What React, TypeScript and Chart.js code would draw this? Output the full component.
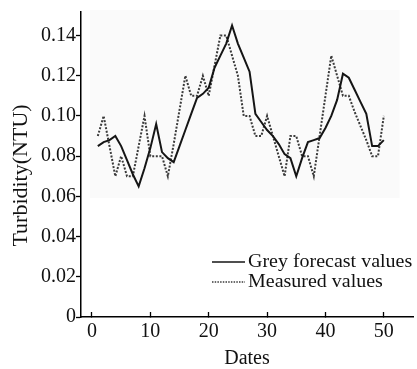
import { useEffect, useRef } from "react";
import { Chart, registerables } from "chart.js";

Chart.register(...registerables);

// ---- data ----
const dates = [
  1, 2, 3, 4, 5, 6, 7, 8, 9, 10,
  11, 12, 13, 14, 15, 16, 17, 18, 19, 20,
  21, 22, 23, 24, 25, 26, 27, 28, 29, 30,
  31, 32, 33, 34, 35, 36, 37, 38, 39, 40,
  41, 42, 43, 44, 45, 46, 47, 48, 49, 50,
];

const forecastValues = [
  0.085, 0.087, 0.088, 0.09, 0.085, 0.078, 0.071, 0.065, 0.074, 0.084,
  0.096, 0.082, 0.079, 0.077, 0.085, 0.093, 0.101, 0.109, 0.111, 0.114,
  0.124, 0.13, 0.136, 0.145, 0.136, 0.129, 0.122, 0.101, 0.097, 0.093,
  0.09, 0.086, 0.081, 0.079, 0.07, 0.079, 0.087, 0.088, 0.089, 0.094,
  0.1, 0.108, 0.121, 0.119, 0.113, 0.107, 0.101, 0.085, 0.085, 0.088,
];

const measuredValues = [
  0.09, 0.1, 0.085, 0.07, 0.08, 0.07, 0.07, 0.085, 0.1, 0.08,
  0.08, 0.08, 0.07, 0.086, 0.103, 0.12, 0.11, 0.11, 0.12, 0.11,
  0.125, 0.14, 0.14, 0.13, 0.12, 0.1, 0.1, 0.09, 0.09, 0.1,
  0.09, 0.08, 0.07, 0.09, 0.09, 0.08, 0.08, 0.07, 0.09, 0.11,
  0.13, 0.12, 0.11, 0.11, 0.102, 0.095, 0.088, 0.08, 0.08, 0.1,
];

const seriesLabels = ["Grey forecast values", "Measured values"];
const xTicks = [0, 10, 20, 30, 40, 50];
const yTicks = [0, 0.02, 0.04, 0.06, 0.08, 0.1, 0.12, 0.14];
const xTitle = "Dates";
const yTitle = "Turbidity(NTU)";

const FONT = "'Liberation Serif', 'Times New Roman', serif";

const backgroundPlugin = {
  id: "softBackground",
  beforeDatasetsDraw(chart: any) {
    const { ctx, scales } = chart;
    const x = scales.x;
    const y = scales.y;
    const l = x.getPixelForValue(-0.35);
    const r = x.getPixelForValue(52.7);
    const t = y.getPixelForValue(0.1527);
    const b = y.getPixelForValue(0.0592);
    ctx.save();
    ctx.fillStyle = "#fafafa";
    ctx.fillRect(l, t, r - l, b - t);
    ctx.restore();
  },
};

const annotationsPlugin = {
  id: "textDecor",
  afterDraw(chart: any) {
    const { ctx, chartArea } = chart;
    ctx.save();
    // y axis title
    ctx.fillStyle = "#111";
    ctx.font = `20px ${FONT}`;
    ctx.textAlign = "center";
    ctx.textBaseline = "middle";
    ctx.translate(chartArea.left - 59, (chartArea.top + chartArea.bottom) / 2 + 11);
    ctx.rotate(-Math.PI / 2);
    ctx.scale(1.1, 1);
    ctx.fillText(yTitle, 0, 0);
    ctx.restore();

    // legend inside plot
    const lx0 = chartArea.right - 201;
    const lx1 = chartArea.right - 168;
    const tx = chartArea.right - 165;
    const rows = [chartArea.bottom - 55, chartArea.bottom - 35];
    chart.data.datasets.forEach((ds: any, i: number) => {
      const yy = rows[i];
      ctx.save();
      ctx.strokeStyle = ds.borderColor;
      ctx.lineWidth = 1.5;
      ctx.setLineDash(i === 1 ? [1.5, 1.2] : []);
      ctx.beginPath();
      ctx.moveTo(lx0, yy);
      ctx.lineTo(lx1, yy);
      ctx.stroke();
      ctx.restore();
      ctx.save();
      ctx.fillStyle = "#111";
      ctx.font = `18.5px ${FONT}`;
      ctx.textAlign = "left";
      ctx.textBaseline = "middle";
      ctx.translate(tx, yy);
      ctx.scale(1.08, 1);
      ctx.fillText(ds.label, 0, 0);
      ctx.restore();
    });
  },
};

export default function App() {
  const canvasRef = useRef<HTMLCanvasElement | null>(null);

  useEffect(() => {
    if (!canvasRef.current) return;
    const chart = new Chart(canvasRef.current, {
      type: "line",
      data: {
        datasets: [
          {
            label: seriesLabels[0],
            data: dates.map((d, i) => ({ x: d, y: forecastValues[i] })),
            borderColor: "#151515",
            borderWidth: 2,
            pointRadius: 0,
            tension: 0,
            fill: false,
          },
          {
            label: seriesLabels[1],
            data: dates.map((d, i) => ({ x: d, y: measuredValues[i] })),
            borderColor: "#3a3a3a",
            borderWidth: 2,
            borderDash: [2, 1.6],
            pointRadius: 0,
            tension: 0,
            fill: false,
          },
        ],
      },
      options: {
        animation: false,
        responsive: false,
        devicePixelRatio: 1,
        layout: { padding: { top: 7, right: 4, left: 0, bottom: 0 } },
        plugins: {
          legend: { display: false },
          tooltip: { enabled: false },
        },
        scales: {
          x: {
            type: "linear",
            min: -1.88,
            max: 55,
            afterBuildTicks: (s: any) => {
              s.ticks = xTicks.map((v) => ({ value: v }));
            },
            afterFit: (s: any) => {
              s.height = 52;
            },
            border: { display: true, color: "#000", width: 1.5 },
            grid: {
              display: true,
              drawOnChartArea: false,
              drawTicks: true,
              tickLength: -5,
              tickColor: "#000",
              tickWidth: 1.3,
            },
            ticks: {
              padding: 7.5,
              color: "#111",
              font: { family: FONT, size: 20 },
              maxRotation: 0,
              callback: (v: any) => String(v),
            },
            title: {
              display: true,
              text: xTitle,
              color: "#111",
              font: { family: FONT, size: 20, lineHeight: 1 },
              padding: 0,
            },
          },
          y: {
            type: "linear",
            min: 0,
            max: 0.1517,
            afterBuildTicks: (s: any) => {
              s.ticks = yTicks.map((v) => ({ value: v }));
            },
            afterFit: (s: any) => {
              s.width = 81;
            },
            border: { display: true, color: "#000", width: 1.5 },
            grid: {
              display: true,
              drawOnChartArea: false,
              drawTicks: true,
              tickLength: 5,
              tickColor: "#000",
              tickWidth: 1.3,
            },
            ticks: {
              padding: 0,
              color: "#111",
              font: { family: FONT, size: 20 },
              callback: (v: any) => (Number(v) === 0 ? "0" : Number(v).toFixed(2)),
            },
          },
        },
      },
      plugins: [backgroundPlugin, annotationsPlugin],
    });
    return () => chart.destroy();
  }, []);

  return (
    <div style={{ position: "fixed", left: 0, top: 0, width: 417, height: 369, background: "#fff" }}>
      <canvas ref={canvasRef} width={417} height={369} style={{ display: "block" }} />
    </div>
  );
}
